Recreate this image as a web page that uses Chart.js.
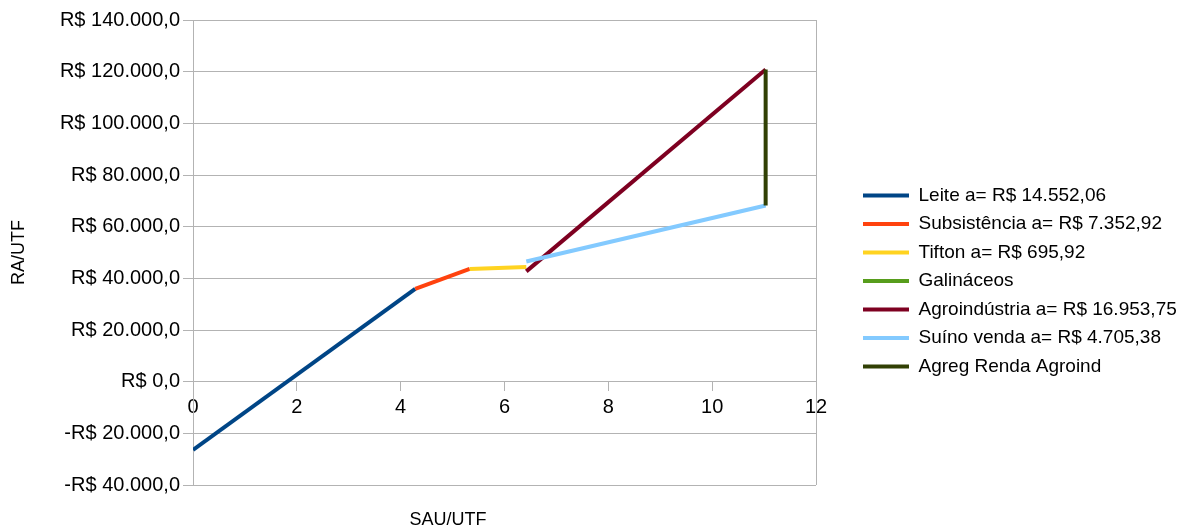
<!DOCTYPE html>
<html>
<head>
<meta charset="utf-8">
<script src="https://cdn.jsdelivr.net/npm/chart.js@4/dist/chart.umd.min.js"></script>
<style>
  html, body { margin: 0; padding: 0; background: #ffffff; }
  #wrap { width: 1204px; height: 531px; }
</style>
</head>
<body>
<div id="wrap"><canvas id="chart" width="1204" height="531"></canvas></div>
<script>
// Series names and colours
const seriesNames = [
  'Leite a= R$ 14.552,06',
  'Subsistência a= R$ 7.352,92',
  'Tifton a= R$ 695,92',
  'Galináceos',
  'Agroindústria a= R$ 16.953,75',
  'Suíno venda a= R$ 4.705,38',
  'Agreg Renda Agroind'
];
const seriesColors = ['#004586', '#ff420e', '#ffd320', '#579d1c', '#7e0021', '#83caff', '#314004'];

// Segment endpoints: SAU/UTF (x) and RA/UTF in R$ (y)
const leiteX = [0, 4.28];
const leiteY = [-26400, 35900];
const subsistenciaX = [4.28, 5.33];
const subsistenciaY = [35900, 43620];
const tiftonX = [5.33, 6.42];
const tiftonY = [43620, 44380];
const galinaceosX = [];
const galinaceosY = [];
const agroindustriaX = [6.42, 11.03];
const agroindustriaY = [42700, 120860];
const suinoX = [6.42, 11.03];
const suinoY = [46500, 68190];
const agregX = [11.03, 11.03];
const agregY = [68190, 120860];

// Axis ticks
const xTickValues = [0, 2, 4, 6, 8, 10, 12];
const xTickLabels = ['0', '2', '4', '6', '8', '10', '12'];
const yTickValues = [-40000, -20000, 0, 20000, 40000, 60000, 80000, 100000, 120000, 140000];
const yTickLabels = ['-R$ 40.000,0', '-R$ 20.000,0', 'R$ 0,0', 'R$ 20.000,0', 'R$ 40.000,0',
                     'R$ 60.000,0', 'R$ 80.000,0', 'R$ 100.000,0', 'R$ 120.000,0', 'R$ 140.000,0'];
const xTitle = 'SAU/UTF';
const yTitle = 'RA/UTF';

const FONT = 'Liberation Sans';
const GRID = '#b3b3b3';
Chart.defaults.font.family = FONT;
Chart.defaults.color = '#000000';

const pts = (xs, ys) => xs.map((x, i) => ({ x: x, y: ys[i] }));
const seriesData = [
  pts(leiteX, leiteY),
  pts(subsistenciaX, subsistenciaY),
  pts(tiftonX, tiftonY),
  pts(galinaceosX, galinaceosY),
  pts(agroindustriaX, agroindustriaY),
  pts(suinoX, suinoY),
  pts(agregX, agregY)
];

const datasets = seriesNames.map((name, i) => ({
  label: name,
  data: seriesData[i],
  showLine: true,
  borderColor: seriesColors[i],
  backgroundColor: seriesColors[i],
  borderWidth: 4,
  pointRadius: 0,
  pointHoverRadius: 0,
  // later series are painted over earlier ones
  order: seriesNames.length - i
}));

// Places the legend block to the right of the plot
const legendPlacement = {
  id: 'legendPlacement',
  afterLayout(chart) {
    const lg = chart.legend;
    if (!lg) return;
    const w = lg.width, h = lg.height;
    lg.left = 853.5;
    lg.right = lg.left + w;
    lg.top = 176.5;
    lg.bottom = lg.top + h;
  }
};

// Horizontal axis title under the plot
const xAxisTitle = {
  id: 'xAxisTitle',
  afterDraw(chart) {
    const ctx = chart.ctx;
    ctx.save();
    ctx.font = '18px "' + FONT + '"';
    ctx.fillStyle = '#000000';
    ctx.textAlign = 'center';
    ctx.textBaseline = 'middle';
    ctx.fillText(xTitle, 448, 520);
    ctx.restore();
  }
};

new Chart(document.getElementById('chart'), {
  type: 'scatter',
  data: { datasets: datasets },
  options: {
    responsive: false,
    animation: false,
    devicePixelRatio: 1,
    layout: { padding: { left: 0, top: 20, right: 388, bottom: 46 } },
    scales: {
      x: {
        type: 'linear',
        position: { y: 0 },
        min: 0,
        max: 12,
        afterBuildTicks: s => { s.ticks = xTickValues.map(v => ({ value: v })); },
        ticks: {
          callback: v => xTickLabels[xTickValues.indexOf(v)] ?? '',
          font: { size: 20 },
          color: '#000000',
          padding: 5,
          maxRotation: 0
        },
        grid: {
          color: ctx => (ctx.tick && ctx.tick.value === 12) ? GRID : 'rgba(0,0,0,0)',
          tickColor: GRID,
          tickLength: 9,
          lineWidth: 1
        },
        border: { color: GRID, width: 1 }
      },
      y: {
        type: 'linear',
        position: 'left',
        min: -40000,
        max: 140000,
        afterBuildTicks: s => { s.ticks = yTickValues.map(v => ({ value: v })); },
        afterFit: s => { s.width = 193; },
        ticks: {
          callback: v => yTickLabels[yTickValues.indexOf(v)] ?? '',
          font: { size: 20 },
          color: '#000000',
          padding: 3
        },
        grid: { color: GRID, tickColor: GRID, tickLength: 10, lineWidth: 1 },
        border: { color: GRID, width: 1 },
        title: {
          display: true,
          text: yTitle,
          font: { size: 18 },
          color: '#000000',
          padding: { top: 8, bottom: 0 }
        }
      }
    },
    plugins: {
      tooltip: { enabled: false },
      legend: {
        position: 'chartArea',
        align: 'start',
        labels: {
          font: { size: 19 },
          color: '#000000',
          boxWidth: 46,
          boxHeight: 4,
          padding: 9.5,
          generateLabels: chart => chart.data.datasets.map((ds, i) => ({
            text: ds.label,
            fillStyle: ds.borderColor,
            strokeStyle: ds.borderColor,
            lineWidth: 0,
            hidden: false,
            datasetIndex: i
          }))
        }
      }
    }
  },
  plugins: [legendPlacement, xAxisTitle]
});
</script>
</body>
</html>
